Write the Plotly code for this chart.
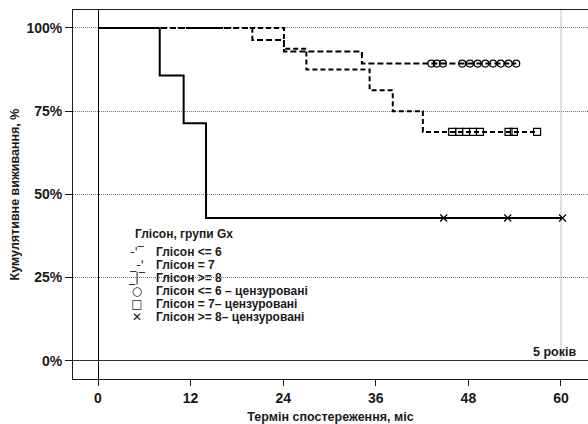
import plotly.graph_objects as go

# ---- data (months, cumulative survival %) ----
months_g6 = [0, 20.0, 24.1, 34.2, 54.2]
surv_g6 = [100, 96.4, 92.9, 89.3, 89.3]
months_g7 = [0, 24.1, 27.0, 35.2, 38.2, 42.1, 56.9]
surv_g7 = [100, 93.75, 87.5, 81.25, 75.0, 68.75, 68.75]
months_g8 = [0, 8.0, 11.1, 14.0, 60.2]
surv_g8 = [100, 85.7, 71.4, 42.9, 42.9]

cens_g6 = [43.2, 43.9, 44.7, 47.2, 48.2, 49.2, 50.2, 51.2, 52.2, 53.2, 54.2]
cens_g7 = [45.9, 46.8, 47.7, 48.6, 49.5, 53.2, 53.9, 56.9]
cens_g8 = [44.8, 53.1, 60.2]

x_ticks = [0, 12, 24, 36, 48, 60]
y_ticks = [0, 25, 50, 75, 100]
y_ticklabels = ["0%", "25%", "50%", "75%", "100%"]

legend_title = "Глісон, групи Gx"
legend_labels = ["Глісон <= 6", "Глісон = 7", "Глісон >= 8",
                 "Глісон <= 6 – цензуровані", "Глісон = 7– цензуровані",
                 "Глісон >= 8– цензуровані"]
legend_symbols = ["-'‾", "_-'", "_|‾", "○", "□", "✕"]


def level_at(times, levels, t):
    v = levels[0]
    for tt, lv in zip(times, levels):
        if tt <= t:
            v = lv
    return v


FONT = "Liberation Sans, Arial, sans-serif"
INK = "#1a1a1a"

fig = go.Figure()

fig.add_trace(go.Scatter(x=months_g6, y=surv_g6, mode="lines", line_shape="hv",
                         line=dict(color="black", width=2, dash="6px,3px"),
                         name=legend_labels[0], showlegend=False))
fig.add_trace(go.Scatter(x=months_g7, y=surv_g7, mode="lines", line_shape="hv",
                         line=dict(color="black", width=2, dash="5px,3px"),
                         name=legend_labels[1], showlegend=False))
fig.add_trace(go.Scatter(x=months_g8, y=surv_g8, mode="lines", line_shape="hv",
                         line=dict(color="black", width=2),
                         name=legend_labels[2], showlegend=False))

fig.add_trace(go.Scatter(x=cens_g6, y=[level_at(months_g6, surv_g6, t) for t in cens_g6],
                         mode="markers", name=legend_labels[3], showlegend=False,
                         marker=dict(symbol="circle-open", size=7, color="black",
                                     line=dict(width=1.2, color="black"))))
fig.add_trace(go.Scatter(x=cens_g7, y=[level_at(months_g7, surv_g7, t) for t in cens_g7],
                         mode="markers", name=legend_labels[4], showlegend=False,
                         marker=dict(symbol="square-open", size=7, color="black",
                                     line=dict(width=1.2, color="black"))))
fig.add_trace(go.Scatter(x=cens_g8, y=[level_at(months_g8, surv_g8, t) for t in cens_g8],
                         mode="markers", name=legend_labels[5], showlegend=False,
                         marker=dict(symbol="x-thin-open", size=7, color="black",
                                     line=dict(width=1.2, color="black"))))

# reference line at 5 years
fig.add_shape(type="line", xref="x", yref="y", x0=60, x1=60, y0=0, y1=105.4,
              line=dict(color="#888", width=1, dash="1px,1px"), layer="below")

fig.add_annotation(x=59.1, y=2.6, xref="x", yref="y", text="5 років", showarrow=False,
                   font=dict(family=FONT, size=12.5, color=INK, weight="bold"),
                   xanchor="center", yanchor="middle")

# legend built from text
fig.add_annotation(x=0.1165, y=0.392, xref="paper", yref="paper", text=legend_title,
                   showarrow=False, xanchor="left", yanchor="middle",
                   font=dict(family=FONT, size=12, color=INK, weight="bold"))

sym_text = "<br>".join('<span style="font-size:12px">%s</span>' % s for s in legend_symbols)
lab_text = "<br>".join('<span style="font-size:12px">%s</span>' % s for s in legend_labels)
fig.add_annotation(x=0.124, y=0.255, xref="paper", yref="paper", text=sym_text,
                   showarrow=False, xanchor="center", yanchor="middle", align="center",
                   borderpad=0,
                   font=dict(family="DejaVu Sans", size=10, color=INK))
fig.add_annotation(x=0.159, y=0.255, xref="paper", yref="paper", text=lab_text,
                   showarrow=False, xanchor="left", yanchor="middle", align="left",
                   borderpad=0,
                   font=dict(family=FONT, size=10, color=INK, weight="bold"))

fig.update_layout(
    width=588, height=424,
    margin=dict(l=73, r=0, t=10, b=45),
    paper_bgcolor="white", plot_bgcolor="white",
    font=dict(family=FONT, color=INK),
    showlegend=False,
    xaxis=dict(range=[-3.24, 63.5], tickvals=x_ticks, ticks="outside", ticklen=6,
               tickcolor=INK, showline=True, linecolor=INK, linewidth=1, mirror=True,
               showgrid=False, zeroline=True, zerolinecolor="black", zerolinewidth=1,
               automargin=False,
               tickfont=dict(family=FONT, size=14, color=INK, weight="bold"),
               title=dict(text="Термін спостереження, міс", standoff=8,
                          font=dict(family=FONT, size=12.5, color=INK, weight="bold"))),
    yaxis=dict(range=[-5.5, 105.4], tickvals=y_ticks, ticktext=y_ticklabels,
               ticks="outside", ticklen=7, tickcolor=INK, showline=True, linecolor=INK,
               linewidth=1, mirror=False, showgrid=True, gridcolor="#777",
               griddash="1px,1px", gridwidth=1, zeroline=True, zerolinecolor="#333",
               zerolinewidth=1, automargin=False,
               tickfont=dict(family=FONT, size=14, color=INK, weight="bold"),
               title=dict(text="Кумулятивне виживання, %", standoff=4,
                          font=dict(family=FONT, size=12.5, color=INK, weight="bold"))),
)

fig.write_html("out.html", config={"displayModeBar": False},
               post_script="document.body.style.margin='0px';")
